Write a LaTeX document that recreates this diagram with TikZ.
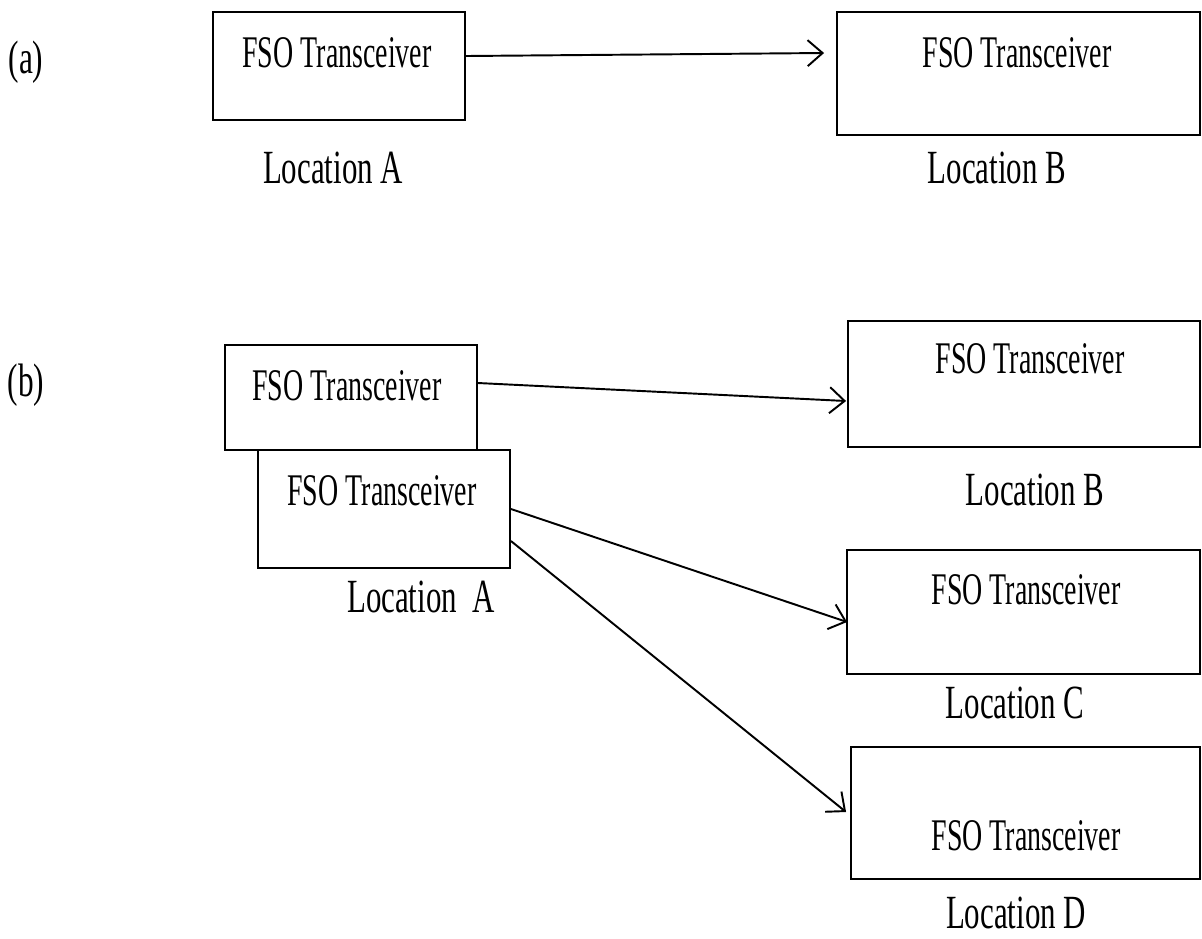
\documentclass[tikz,border=0pt]{standalone}
\usepackage{fontspec}
\setmainfont{Liberation Serif}
\usepackage{graphicx}
\usetikzlibrary{arrows.meta,calc}

% tall, narrow lettering used throughout
\newcommand{\boxtext}[1]{\scalebox{1}[1.62]{\fontsize{15.9}{18}\selectfont #1}}
\newcommand{\loctext}[1]{\scalebox{1}[1.54]{\fontsize{17.6}{20}\selectfont #1}}
\newcommand{\parttext}[1]{\scalebox{1}[1.5]{\fontsize{17.8}{20}\selectfont #1}}

\tikzset{
  unitbox/.style={draw=black, line width=1.1pt, rectangle, inner sep=0pt, fill=none},
  txt/.style={inner sep=0pt, anchor=base},
  arr/.style={line width=1.1pt, -{Straight Barb[length=0.3cm, width=0.52cm, line width=1.1pt]}}
}

\begin{document}
\begin{tikzpicture}[x=0.02cm, y=-0.02cm]
\useasboundingbox (0,0) rectangle (1202,938);

% ---------- (a) point-to-point ----------
\node[txt] (pa) at (26,73) {\parttext{(a)}};

\node[unitbox, minimum width=5.04cm, minimum height=2.16cm] (aA) at (339,66) {};
\node[unitbox, minimum width=7.26cm, minimum height=2.46cm] (aB) at (1018.5,73.5) {};

\node[txt] (aAt) at (337,67) {\boxtext{FSO Transceiver}};
\node[txt] (aBt) at (1017,67) {\boxtext{FSO Transceiver}};
\node[txt] (aAl) at (333,183) {\loctext{Location A}};
\node[txt] (aBl) at (997,183) {\loctext{Location B}};

\draw[arr] ($(aA.east)+(0,-10)$) -- ($(aB.west)+(-12,-20.5)$);

% ---------- (b) point-to-multipoint ----------
\node[txt] (pb) at (26,396) {\parttext{(b)}};

\node[unitbox, minimum width=5.04cm, minimum height=2.1cm] (bA1) at (351,397.5) {};
\node[unitbox, fill=white, minimum width=5.04cm, minimum height=2.36cm] (bA2) at (384,509) {};
\node[unitbox, minimum width=7.04cm, minimum height=2.52cm] (bB) at (1024,384) {};
\node[unitbox, minimum width=7.06cm, minimum height=2.48cm] (bC) at (1023.5,612) {};
\node[unitbox, minimum width=6.98cm, minimum height=2.64cm] (bD) at (1025.5,813) {};

\node[txt] (bA1t) at (347,400) {\boxtext{FSO Transceiver}};
\node[txt] (bA2t) at (382,505) {\boxtext{FSO Transceiver}};
\node[txt] (bBt) at (1030,373) {\boxtext{FSO Transceiver}};
\node[txt] (bCt) at (1026,604) {\boxtext{FSO Transceiver}};
\node[txt] (bDt) at (1026,850) {\boxtext{FSO Transceiver}};

\node[txt] (bAl) at (421,612) {\loctext{Location~~A}};
\node[txt] (bBl) at (1035,505) {\loctext{Location B}};
\node[txt] (bCl) at (1015,718) {\loctext{Location C}};
\node[txt] (bDl) at (1016,928) {\loctext{Location D}};

\draw[arr] ($(bA1.east)+(0,-14.5)$) -- ($(bB.west)+(-1,17)$);
\draw[arr] (bA2.east) -- ($(bC.west)+(1,10)$);
\draw[arr] ($(bA2.east)+(0,32)$) -- ($(bD.west)+(-4,-1)$);
\end{tikzpicture}
\end{document}
